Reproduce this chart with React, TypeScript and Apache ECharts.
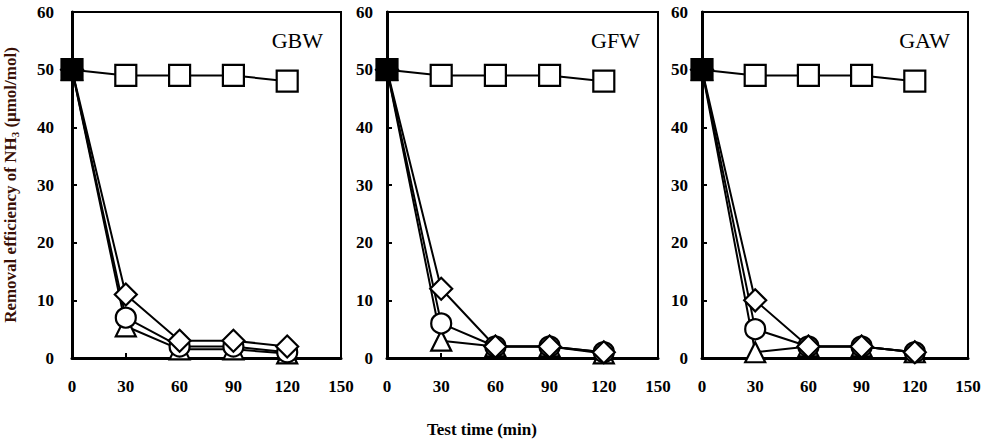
import React, { useEffect, useRef } from "react";
import * as echarts from "echarts";

const times = [0, 30, 60, 90, 120];
const panels = ["GBW", "GFW", "GAW"];

// series values per panel
const squareVals = [
  [50, 49, 49, 49, 48],
  [50, 49, 49, 49, 48],
  [50, 49, 49, 49, 48],
];
const diamondVals = [
  [50, 11, 3, 3, 2],
  [50, 12, 2, 2, 1],
  [50, 10, 2, 2, 1],
];
const circleVals = [
  [50, 7, 2, 2, 1],
  [50, 6, 2, 2, 1],
  [50, 5, 2, 2, 1],
];
const triangleVals = [
  [50, 5.5, 1.5, 1.5, 0.8],
  [50, 3, 2, 2, 0.8],
  [50, 1, 2, 2, 1],
];

const gridLefts = [72, 387, 702];
const gridWidths = [269, 271, 266];

export default function App() {
  const ref = useRef<HTMLDivElement>(null);
  useEffect(() => {
    const chart = echarts.init(ref.current!, null, { renderer: "svg" });
    const font = "'Liberation Serif', 'Times New Roman', serif";
    const labelColor = "#3a1005";
    const grids: any[] = [];
    const xAxes: any[] = [];
    const yAxes: any[] = [];
    const series: any[] = [];
    const graphics: any[] = [];
    panels.forEach((name, i) => {
      grids.push({
        left: gridLefts[i],
        width: gridWidths[i],
        top: 12,
        bottom: 86,
        show: true,
        borderColor: "#000",
        borderWidth: 2,
        backgroundColor: "transparent",
      });
      xAxes.push({
        type: "value",
        gridIndex: i,
        min: 0,
        max: 150,
        interval: 30,
        axisLine: { onZero: false, lineStyle: { color: "#000", width: 3 } },
        axisTick: { inside: true, length: 5, lineStyle: { color: "#000", width: 2 } },
        splitLine: { show: false },
        axisLabel: {
          color: "#000",
          fontFamily: font,
          fontWeight: "bold",
          fontSize: 17,
          margin: 20,
          showMaxLabel: true,
          showMinLabel: true,
        },
      });
      yAxes.push({
        type: "value",
        gridIndex: i,
        min: 0,
        max: 60,
        interval: 10,
        axisLine: { show: true, onZero: false, lineStyle: { color: "#000", width: 3 } },
        axisTick: { show: true, inside: true, length: 5, lineStyle: { color: "#000", width: 2 } },
        splitLine: { show: false },
        axisLabel: {
          color: "#000",
          fontFamily: font,
          fontWeight: "bold",
          fontSize: 17,
          margin: i === 0 ? 18 : 14,
        },
        ...(i === 0
          ? {
              name: "Removal efficiency of NH{sub|3} (μmol/mol)",
              nameLocation: "middle",
              nameRotate: 90,
              nameGap: 52,
              nameTextStyle: {
                color: labelColor,
                fontFamily: font,
                fontWeight: "bold",
                fontSize: 17,
                rich: {
                  sub: {
                    color: labelColor,
                    fontFamily: font,
                    fontWeight: "bold",
                    fontSize: 11,
                    verticalAlign: "bottom",
                    padding: [8, 0, 0, 0],
                  },
                },
              },
            }
          : {}),
      });
      const mk = (vals: number[], symbol: string, size: number, firstBlack = false) => ({
        type: "line",
        xAxisIndex: i,
        yAxisIndex: i,
        data: times.map((t, k) =>
          firstBlack && k === 0
            ? { value: [t, vals[k]], itemStyle: { color: "#000" } }
            : [t, vals[k]]
        ),
        symbol,
        symbolSize: size,
        showAllSymbol: true,
        lineStyle: { color: "#000", width: 2 },
        itemStyle: { color: "#fff", borderColor: "#000", borderWidth: 2.2 },
        emphasis: { disabled: true },
      });
      series.push(mk(triangleVals[i], "triangle", 20));
      series.push(mk(circleVals[i], "circle", 20));
      series.push(mk(diamondVals[i], "diamond", 22));
      series.push(mk(squareVals[i], "rect", 21, true));
      graphics.push({
        type: "text",
        x: gridLefts[i] + gridWidths[i] - 18,
        y: 29,
        style: {
          text: name,
          fontFamily: font,
          fontSize: 22,
          fill: "#000",
          align: "right",
          verticalAlign: "top",
        },
      });
    });
    graphics.push({
      type: "text",
      left: 427,
      top: 421,
      style: {
        text: "Test time (min)",
        fontFamily: font,
        fontWeight: "bold",
        fontSize: 17,
        fill: "#000",
      },
    });
    chart.setOption({
      animation: false,
      backgroundColor: "#fff",
      grid: grids,
      xAxis: xAxes,
      yAxis: yAxes,
      series,
      graphic: graphics,
    });
    return () => chart.dispose();
  }, []);
  return <div ref={ref} style={{ width: 987, height: 444, position: "absolute", left: 0, top: 0 }} />;
}
